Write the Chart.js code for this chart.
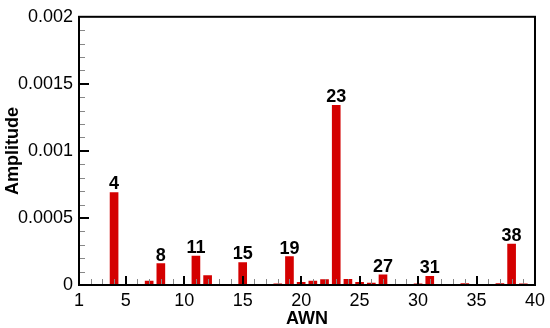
<!DOCTYPE html>
<html>
<head>
<meta charset="utf-8">
<script src="https://cdn.jsdelivr.net/npm/chart.js@4"></script>
<style>
  html, body { margin: 0; padding: 0; background: #fff; }
  #wrap { width: 550px; height: 328px; }
</style>
</head>
<body>
<div id="wrap"><canvas id="awnChart"></canvas></div>
<script>
const awn = [3, 4, 7, 8, 11, 12, 15, 16, 17, 18, 19, 20, 21, 22, 23, 24, 25, 26, 27, 30, 31, 34, 37, 38, 39];
const amplitude = [0.000004, 0.00069, 0.00003, 0.00016, 0.000216, 0.00007, 0.000168, 0.000005, 0.000005, 0.000008,
                   0.000212, 0.00002, 0.00003, 0.00004, 0.00134, 0.000042, 0.00002, 0.000015, 0.000075, 0.000008,
                   0.000064, 0.00001, 0.00001, 0.000305, 0.000008];
const peakLabels = [4, 8, 11, 15, 19, 23, 27, 31, 38];
const xTicks = [1, 5, 10, 15, 20, 25, 30, 35, 40];
const yTicks = [0, 0.0005, 0.001, 0.0015, 0.002];

const FONT = "'Liberation Sans', Arial, sans-serif";

// inside tick marks, plot frame and peak labels
const frameAndLabels = {
    id: "frameAndLabels",
    afterDatasetsDraw(chart) {
        const ctx = chart.ctx;
        const area = chart.chartArea;
        const xs = chart.scales.x;
        const ys = chart.scales.y;
        ctx.save();

        for (let v = xs.min + 1; v < xs.max; v++) {
            const px = Math.round(xs.getPixelForValue(v));
            const major = v % 5 === 0;
            ctx.strokeStyle = major ? "#000" : "#888";
            ctx.lineWidth = major ? 2 : 1;
            ctx.beginPath();
            ctx.moveTo(px + (major ? 0 : 0.5), area.bottom);
            ctx.lineTo(px + (major ? 0 : 0.5), area.bottom - (major ? 9 : 6));
            ctx.stroke();
        }
        for (let i = 1; i < 20; i++) {
            const v = i * 0.0001;
            const py = Math.round(ys.getPixelForValue(v));
            const major = i % 5 === 0;
            ctx.strokeStyle = major ? "#000" : "#888";
            ctx.lineWidth = major ? 2 : 1;
            ctx.beginPath();
            ctx.moveTo(area.left, py + (major ? 0 : 0.5));
            ctx.lineTo(area.left + (major ? 10 : 6), py + (major ? 0 : 0.5));
            ctx.stroke();
        }

        ctx.strokeStyle = "#000";
        ctx.lineWidth = 2;
        ctx.strokeRect(area.left, area.top, area.right - area.left, area.bottom - area.top);

        const meta = chart.getDatasetMeta(0);
        ctx.fillStyle = "#000";
        ctx.font = "bold 18px " + FONT;
        ctx.textAlign = "center";
        ctx.textBaseline = "bottom";
        awn.forEach((n, i) => {
            if (peakLabels.includes(n)) {
                const bar = meta.data[i];
                ctx.fillText(String(n), bar.x, bar.y + 1);
            }
        });
        ctx.restore();
    }
};

const chart = new Chart(document.getElementById("awnChart"), {
    type: "bar",
    data: {
        datasets: [{
            data: awn.map((n, i) => ({ x: n, y: amplitude[i] })),
            backgroundColor: "#d40000",
            borderWidth: 0,
            barThickness: 8
        }]
    },
    options: {
        responsive: true,
        maintainAspectRatio: false,
        animation: false,
        layout: { padding: { top: 13, right: 14, bottom: 0, left: 0 } },
        plugins: { legend: { display: false }, tooltip: { enabled: false } },
        scales: {
            x: {
                type: "linear",
                min: 1,
                max: 40,
                offset: false,
                grid: { display: false, drawTicks: false, offset: false },
                border: { display: false },
                afterBuildTicks: s => { s.ticks = xTicks.map(v => ({ value: v })); },
                afterFit: s => { s.height = 43; },
                ticks: { color: "#000", font: { family: FONT, size: 18 }, padding: 5, maxRotation: 0, autoSkip: false },
                title: { display: true, text: "AWN", color: "#000", font: { family: FONT, size: 18, weight: "bold", lineHeight: 1 }, padding: { top: 0, bottom: 0 } }
            },
            y: {
                min: 0,
                max: 0.002,
                grid: { display: false, drawTicks: false },
                border: { display: false },
                afterBuildTicks: s => { s.ticks = yTicks.map(v => ({ value: v })); },
                afterFit: s => { s.width = 79; },
                ticks: { color: "#000", font: { family: FONT, size: 18 }, padding: 6, callback: v => String(v) },
                title: { display: true, text: "Amplitude", color: "#000", font: { family: FONT, size: 18, weight: "bold", lineHeight: 1 }, padding: { top: 4, bottom: 0 } }
            }
        }
    },
    plugins: [frameAndLabels]
});
</script>
</body>
</html>
